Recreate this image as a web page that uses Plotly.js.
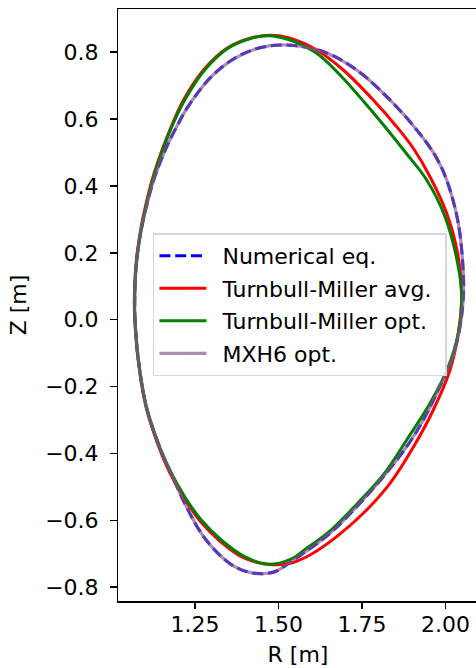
<!DOCTYPE html>
<html>
<head>
<meta charset="utf-8">
<script src="https://cdn.plot.ly/plotly-3.0.1.min.js"></script>
<style>
  html, body { margin: 0; padding: 0; overflow: hidden; background: #fff; }
  #plot { width: 480px; height: 668px; }
</style>
</head>
<body>
<div id="plot"></div>
<script>
// Flux-surface boundary in the poloidal plane, R [m] and Z [m].
// Each contour is listed clockwise, starting at the inboard midplane.

// Numerical equilibrium boundary
const numR = [1.0702, 1.0720, 1.0794, 1.0923, 1.1097, 1.1306, 1.1635, 1.1949, 1.2294, 1.2991, 1.3691, 1.4388, 1.5187, 1.6342, 1.7341, 1.8398, 1.9235, 1.9714, 2.0034, 2.0381, 2.0531, 2.0531, 2.0432, 2.0184, 1.9735, 1.9334, 1.8837, 1.8137, 1.7341, 1.6542, 1.5744, 1.5405, 1.4888, 1.4289, 1.3691, 1.3191, 1.2691, 1.2195, 1.1746, 1.1441, 1.1046, 1.0797, 1.0699, 1.0702];
const numZ = [0.0589, 0.1337, 0.2084, 0.2832, 0.3580, 0.4297, 0.5126, 0.5763, 0.6370, 0.7267, 0.7817, 0.8116, 0.8215, 0.8014, 0.7467, 0.6510, 0.5553, 0.4865, 0.4178, 0.2883, 0.1388, 0.0688, -0.0209, -0.1205, -0.2201, -0.2999, -0.3798, -0.4695, -0.5592, -0.6388, -0.6986, -0.7216, -0.7536, -0.7584, -0.7386, -0.6986, -0.6388, -0.5490, -0.4495, -0.3798, -0.2602, -0.1106, 0.0191, 0.0589];

// Turnbull-Miller, averaged parameters
const tmAvgR = [1.0687, 1.0714, 1.0785, 1.0902, 1.1064, 1.1255, 1.1539, 1.1824, 1.2159, 1.2757, 1.3460, 1.4179, 1.4807, 1.5346, 1.6144, 1.6940, 1.7838, 1.8538, 1.9035, 1.9535, 2.0034, 2.0381, 2.0483, 2.0381, 2.0133, 1.9633, 1.9056, 1.8338, 1.7539, 1.6743, 1.5944, 1.5346, 1.4747, 1.3969, 1.3266, 1.2668, 1.2174, 1.1725, 1.1426, 1.1037, 1.0791, 1.0693, 1.0687];
const tmAvgZ = [0.0589, 0.1337, 0.2084, 0.2832, 0.3580, 0.4297, 0.5135, 0.5852, 0.6570, 0.7467, 0.8116, 0.8424, 0.8505, 0.8415, 0.8065, 0.7467, 0.6570, 0.5771, 0.5126, 0.4276, 0.3182, 0.1884, 0.0688, -0.0407, -0.1504, -0.2700, -0.3777, -0.4892, -0.5789, -0.6489, -0.7036, -0.7285, -0.7320, -0.7126, -0.6633, -0.6035, -0.5332, -0.4524, -0.3822, -0.2611, -0.1115, 0.0200, 0.0589];

// Turnbull-Miller, optimised parameters
const tmOptR = [1.0693, 1.0723, 1.0797, 1.0917, 1.1082, 1.1276, 1.1560, 1.1845, 1.2195, 1.2793, 1.3490, 1.4188, 1.4687, 1.5346, 1.6144, 1.6842, 1.7641, 1.8218, 1.8817, 1.9436, 1.9984, 2.0381, 2.0483, 2.0381, 2.0082, 1.9535, 1.8837, 1.8158, 1.7350, 1.6572, 1.5794, 1.5376, 1.4687, 1.3990, 1.3290, 1.2691, 1.2195, 1.1746, 1.1441, 1.1046, 1.0797, 1.0699, 1.0693];
const tmOptZ = [0.0589, 0.1337, 0.2084, 0.2832, 0.3580, 0.4297, 0.5135, 0.5852, 0.6570, 0.7467, 0.8116, 0.8415, 0.8493, 0.8364, 0.7966, 0.7318, 0.6420, 0.5733, 0.4985, 0.4178, 0.3080, 0.1585, 0.0688, -0.0407, -0.1405, -0.2500, -0.3597, -0.4614, -0.5511, -0.6289, -0.6872, -0.7156, -0.7314, -0.7087, -0.6588, -0.5990, -0.5293, -0.4495, -0.3798, -0.2602, -0.1106, 0.0191, 0.0589];

// MXH (6 harmonics), optimised parameters
const mxhR = [1.0702, 1.0720, 1.0794, 1.0923, 1.1097, 1.1306, 1.1635, 1.1949, 1.2294, 1.2991, 1.3691, 1.4388, 1.5187, 1.6342, 1.7341, 1.8398, 1.9235, 1.9714, 2.0034, 2.0381, 2.0531, 2.0531, 2.0432, 2.0184, 1.9735, 1.9334, 1.8837, 1.8137, 1.7341, 1.6542, 1.5744, 1.5405, 1.4888, 1.4289, 1.3691, 1.3191, 1.2691, 1.2195, 1.1746, 1.1441, 1.1046, 1.0797, 1.0699, 1.0702];
const mxhZ = [0.0589, 0.1337, 0.2084, 0.2832, 0.3580, 0.4297, 0.5126, 0.5763, 0.6370, 0.7267, 0.7817, 0.8116, 0.8215, 0.8014, 0.7467, 0.6510, 0.5553, 0.4865, 0.4178, 0.2883, 0.1388, 0.0688, -0.0209, -0.1205, -0.2201, -0.2999, -0.3798, -0.4695, -0.5592, -0.6388, -0.6986, -0.7216, -0.7536, -0.7584, -0.7386, -0.6986, -0.6388, -0.5490, -0.4495, -0.3798, -0.2602, -0.1106, 0.0191, 0.0589];

const names = ['Numerical eq.', 'Turnbull-Miller avg.', 'Turnbull-Miller opt.', 'MXH6 opt.'];

const FONT = 'DejaVu Sans, Liberation Sans, sans-serif';
const FS = 22;
const LEAD = '\u2002';        // gap between legend sample and label
const TRAIL = '\u2009\u2009'; // right-hand padding inside the legend box

function curve(x, y, name, line) {
  return {
    x: x, y: y, name: LEAD + name + TRAIL, legendgroup: name,
    type: 'scatter', mode: 'lines',
    line: Object.assign({shape: 'spline', smoothing: 1.0}, line),
    hoverinfo: 'skip'
  };
}

const traces = [
  curve(numR, numZ, names[0], {color: '#0000ff', width: 3, dash: '11px,4.8px'}),
  curve(tmAvgR, tmAvgZ, names[1], {color: '#ff0000', width: 3}),
  curve(tmOptR, tmOptZ, names[2], {color: '#008000', width: 3}),
  curve(mxhR, mxhZ, names[3], {color: 'rgba(134,82,145,0.67)', width: 3.2})
];

const axisCommon = {
  showgrid: false, zeroline: false,
  showline: true, linecolor: '#000', linewidth: 1.5, mirror: true,
  ticks: 'outside', ticklen: 6.5, tickwidth: 1.5, tickcolor: '#000',
  tickfont: {family: FONT, size: FS, color: '#000'}
};

const layout = {
  width: 480, height: 668,
  margin: {l: 118, r: 2, t: 9, b: 67},
  paper_bgcolor: '#fff', plot_bgcolor: '#fff',
  font: {family: FONT, size: FS, color: '#000'},
  showlegend: true,
  xaxis: Object.assign({}, axisCommon, {
    range: [1.0199, 2.0971],
    tick0: 1.0, dtick: 0.25, tickformat: '.2f',
    ticklabelstandoff: -3,
    title: {text: 'R [m]', font: {family: FONT, size: FS, color: '#000'}, standoff: 10}
  }),
  yaxis: Object.assign({}, axisCommon, {
    range: [-0.8412, 0.9291],
    tick0: 0, dtick: 0.2, tickformat: '.1f',
    ticklabelstandoff: 7,
    title: {text: 'Z [m]', font: {family: FONT, size: FS, color: '#000'}, standoff: 12}
  }),
  legend: {
    x: 0.097, y: 0.621, xanchor: 'left', yanchor: 'top',
    bgcolor: 'rgba(255,255,255,0.8)', bordercolor: '#d6d6d6', borderwidth: 1.5,
    font: {family: FONT, size: FS, color: '#000'},
    traceorder: 'grouped', tracegroupgap: 1, itemwidth: 47
  }
};

Plotly.newPlot('plot', traces, layout, {staticPlot: true, displayModeBar: false});
</script>
</body>
</html>
